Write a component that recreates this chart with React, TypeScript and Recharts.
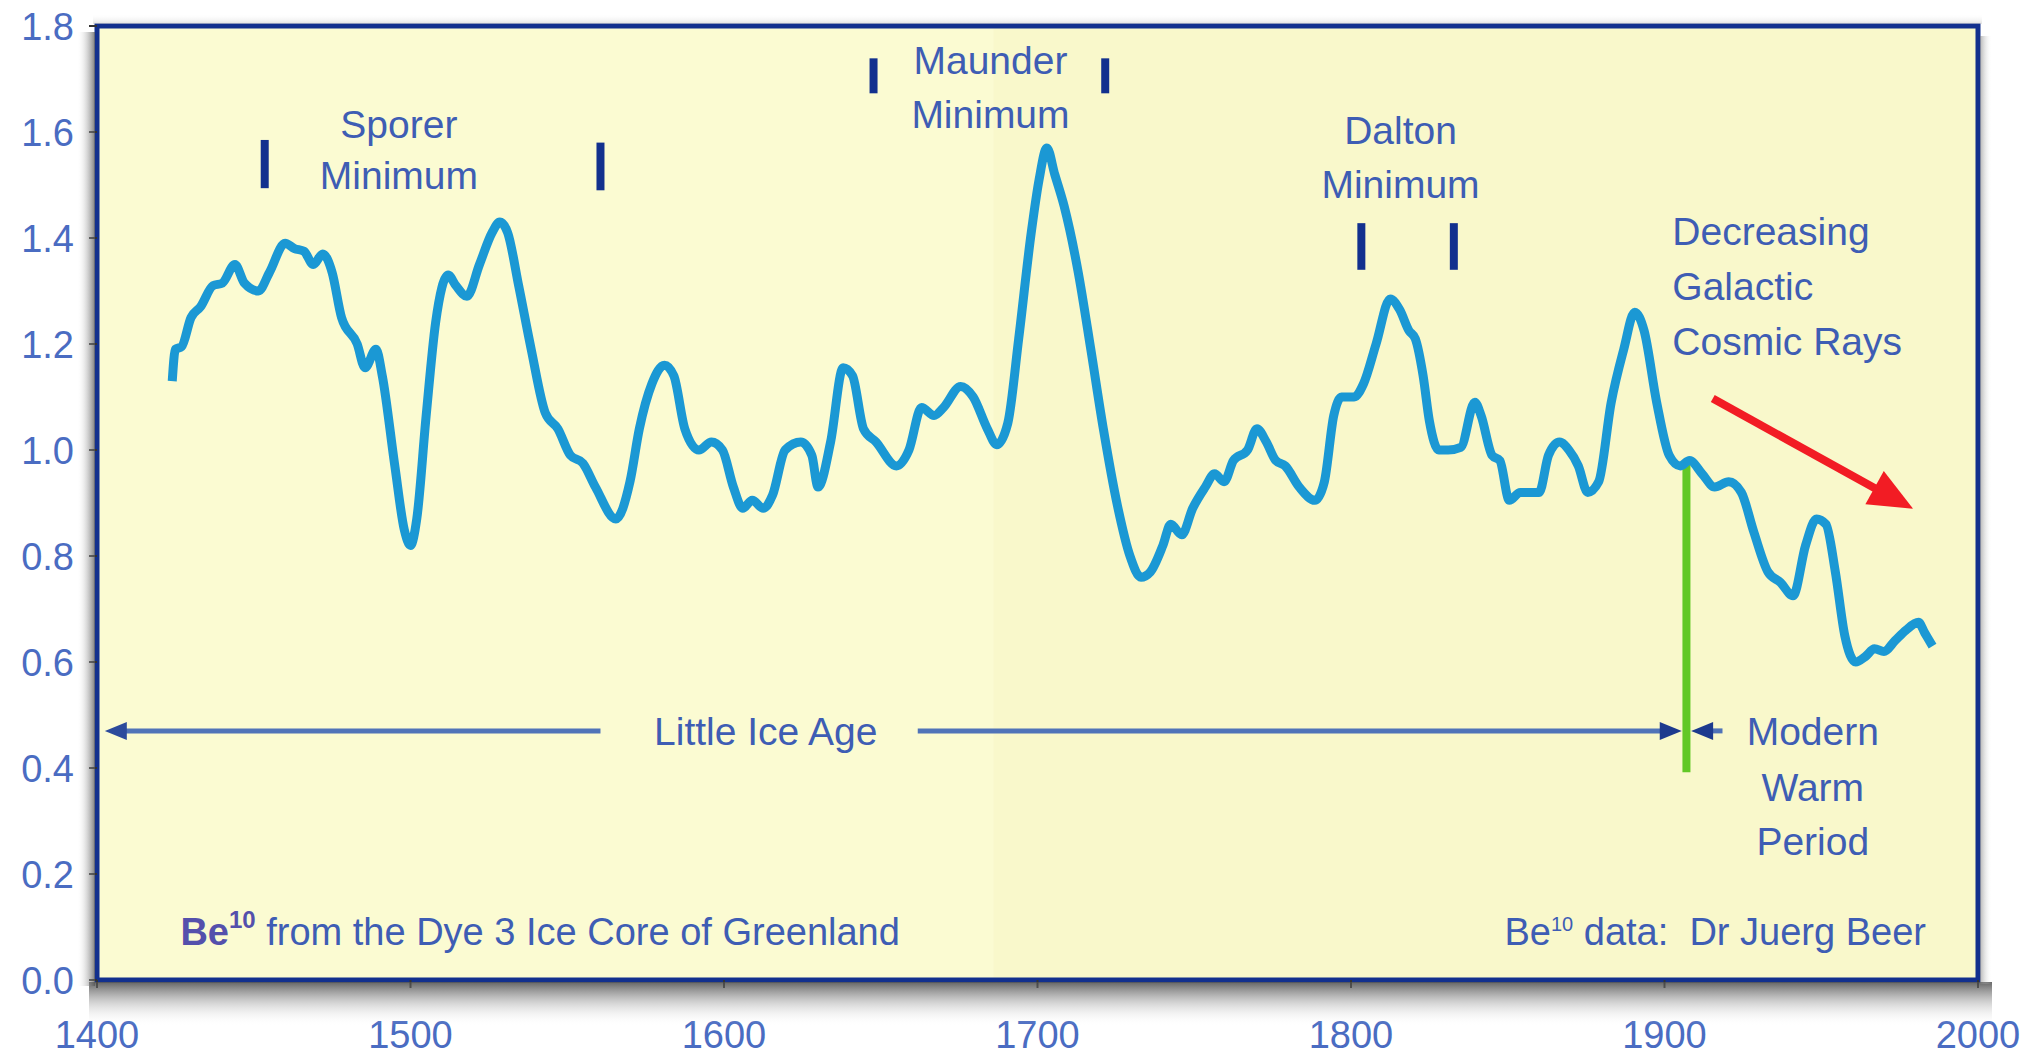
import { LineChart, Line, XAxis, YAxis, ReferenceArea, ReferenceLine, ReferenceDot } from 'recharts';

// Be10 concentration
const years = [
  1424, 1425, 1427, 1430, 1433, 1437, 1440, 1444, 1447, 1451.5, 1455, 1460, 1463, 1466, 1469, 1472, 1475, 1478, 1483, 1485.5,
  1489, 1491, 1495, 1498, 1500, 1502, 1505, 1508, 1512, 1514.5, 1518, 1522, 1526, 1528.5, 1531, 1534.5, 1538.5, 1543, 1547, 1551,
  1555, 1559, 1565.5, 1570, 1573, 1577, 1581, 1584, 1587.5, 1592, 1596, 1599.5, 1603, 1606, 1609, 1612.5, 1615.5, 1619.5, 1624.5, 1628,
  1630, 1634, 1638, 1641, 1644.5, 1648.5, 1655, 1659, 1663, 1667, 1670, 1675.5, 1679.5, 1684, 1687, 1690.5, 1694, 1698, 1700.5, 1703,
  1705.5, 1708.5, 1713, 1717, 1721, 1725.5, 1729.5, 1733, 1736, 1740, 1742.5, 1746, 1749.5, 1753.5, 1756.5, 1759.5, 1762.5, 1767, 1770, 1773,
  1776, 1779, 1783.5, 1788.5, 1791.5, 1794.5, 1797, 1801, 1804, 1808, 1812.5, 1815.5, 1818.5, 1820.5, 1823, 1825, 1828, 1831, 1835, 1839.5,
  1841.5, 1845, 1847.5, 1850.5, 1854, 1857, 1860, 1863, 1866.5, 1869.5, 1872.5, 1875.5, 1879, 1883, 1887, 1890.5, 1893.5, 1897.5, 1901.5, 1905,
  1908, 1912, 1916, 1920.5, 1924.5, 1928.5, 1933, 1937, 1941, 1945, 1948.5, 1951.5, 1954.5, 1957.5, 1961, 1964, 1967, 1970, 1973.5, 1977,
  1981, 1983, 1985.5,
];
const be10 = [
  1.13, 1.19, 1.195, 1.25, 1.27, 1.31, 1.315, 1.35, 1.315, 1.3, 1.335, 1.39, 1.38, 1.375, 1.35, 1.37, 1.335, 1.25, 1.2, 1.155,
  1.19, 1.14, 0.97, 0.85, 0.82, 0.87, 1.065, 1.24, 1.33, 1.31, 1.29, 1.35, 1.41, 1.43, 1.41, 1.31, 1.19, 1.07, 1.04, 0.99,
  0.975, 0.93, 0.87, 0.94, 1.04, 1.125, 1.16, 1.14, 1.04, 1.0, 1.015, 1.0, 0.93, 0.89, 0.905, 0.89, 0.915, 1.0, 1.015, 0.99,
  0.93, 1.015, 1.155, 1.14, 1.04, 1.015, 0.97, 1.0, 1.08, 1.065, 1.08, 1.12, 1.1, 1.04, 1.01, 1.05, 1.21, 1.41, 1.51, 1.57,
  1.52, 1.46, 1.335, 1.19, 1.04, 0.895, 0.8, 0.76, 0.77, 0.82, 0.86, 0.84, 0.89, 0.93, 0.955, 0.94, 0.98, 1.0, 1.04, 1.015,
  0.98, 0.97, 0.93, 0.905, 0.94, 1.065, 1.1, 1.1, 1.125, 1.2, 1.285, 1.265, 1.225, 1.21, 1.14, 1.055, 1.0, 1.0, 1.005, 1.09,
  1.065, 0.99, 0.98, 0.905, 0.92, 0.92, 0.92, 0.99, 1.015, 1.0, 0.97, 0.92, 0.94, 1.09, 1.19, 1.26, 1.225, 1.09, 0.99, 0.97,
  0.98, 0.955, 0.93, 0.94, 0.92, 0.845, 0.77, 0.75, 0.725, 0.82, 0.87, 0.86, 0.77, 0.65, 0.6, 0.61, 0.625, 0.62, 0.64, 0.66,
  0.675, 0.655, 0.63,
];

const xTicks = [1400, 1500, 1600, 1700, 1800, 1900, 2000];
const yTicks = [0, 0.2, 0.4, 0.6, 0.8, 1.0, 1.2, 1.4, 1.6, 1.8];

// annotation text, anchored in data coordinates
const notes = [
  { x: 1496.3, y: 1.616, text: 'Sporer', anchor: 'middle' },
  { x: 1496.3, y: 1.518, text: 'Minimum', anchor: 'middle' },
  { x: 1685, y: 1.736, text: 'Maunder', anchor: 'middle' },
  { x: 1685, y: 1.634, text: 'Minimum', anchor: 'middle' },
  { x: 1815.8, y: 1.604, text: 'Dalton', anchor: 'middle' },
  { x: 1815.8, y: 1.501, text: 'Minimum', anchor: 'middle' },
  { x: 1902.5, y: 1.413, text: 'Decreasing', anchor: 'start' },
  { x: 1902.5, y: 1.31, text: 'Galactic', anchor: 'start' },
  { x: 1902.5, y: 1.205, text: 'Cosmic Rays', anchor: 'start' },
  { x: 1613.3, y: 0.47, text: 'Little Ice Age', anchor: 'middle' },
  { x: 1947.3, y: 0.47, text: 'Modern', anchor: 'middle' },
  { x: 1947.3, y: 0.365, text: 'Warm', anchor: 'middle' },
  { x: 1947.3, y: 0.262, text: 'Period', anchor: 'middle' },
];

// short bars bracketing each solar minimum
const minimumMarks = [
  { x: 1453.5, y1: 1.494, y2: 1.585 },
  { x: 1560.6, y1: 1.49, y2: 1.58 },
  { x: 1647.7, y1: 1.673, y2: 1.739 },
  { x: 1721.6, y1: 1.673, y2: 1.739 },
  { x: 1803.3, y1: 1.34, y2: 1.428 },
  { x: 1832.8, y1: 1.34, y2: 1.428 },
];

const data = years.map((year, i) => ({ year, be10: be10[i] }));

const FONT = '"Liberation Sans", Arial, Helvetica, sans-serif';
const TEXT = '#3e5db4';
const NAVY = '#12308e';
const ARROW = '#5073b8';

// plot frame geometry (follows from the chart margins below)
const M = { top: 26, right: 57, bottom: 47, left: 0 };
const AXIS_W = 97;
const AXIS_H = 30;
const CHART_W = 2035;
const CHART_H = 1057;
const PX = M.left + AXIS_W;
const PW = CHART_W - PX - M.right;
const PH = CHART_H - M.top - M.bottom - AXIS_H;

function noteShape(text: string, anchor: string) {
  return (p: any) => (
    <text x={p.cx} y={p.cy} dy={14} textAnchor={anchor} fontSize={39} fontFamily={FONT} fill={TEXT}>
      {text}
    </text>
  );
}

function headShape(angle: number, len: number, wid: number, color: string) {
  return (p: any) => (
    <polygon
      points={`0,0 ${-len},${-wid / 2} ${-len},${wid / 2}`}
      transform={`translate(${p.cx},${p.cy}) rotate(${angle})`}
      fill={color}
    />
  );
}

// soft shadow around the frame, hung off the 0.0 tick (bottom-left corner of the frame)
function FrameShadow({ bottom }: { bottom: number }) {
  const top = bottom - PH;
  return (
    <g>
      <defs>
        <linearGradient id="fsDown" x1="0" y1="0" x2="0" y2="1">
          <stop offset="0%" stopColor="#4a4a4a" stopOpacity={0.85} />
          <stop offset="45%" stopColor="#8a8a8a" stopOpacity={0.4} />
          <stop offset="100%" stopColor="#ffffff" stopOpacity={0} />
        </linearGradient>
        <linearGradient id="fsLeft" x1="1" y1="0" x2="0" y2="0">
          <stop offset="0%" stopColor="#555" stopOpacity={0.75} />
          <stop offset="100%" stopColor="#fff" stopOpacity={0} />
        </linearGradient>
        <linearGradient id="fsRight" x1="0" y1="0" x2="1" y2="0">
          <stop offset="0%" stopColor="#777" stopOpacity={0.55} />
          <stop offset="100%" stopColor="#fff" stopOpacity={0} />
        </linearGradient>
        <linearGradient id="fsUp" x1="0" y1="1" x2="0" y2="0">
          <stop offset="0%" stopColor="#999" stopOpacity={0.3} />
          <stop offset="100%" stopColor="#fff" stopOpacity={0} />
        </linearGradient>
      </defs>
      <rect x={PX - 8} y={bottom + 2} width={PW + 22} height={44} fill="url(#fsDown)" />
      <rect x={PX - 20} y={top + 6} width={18} height={PH} fill="url(#fsLeft)" />
      <rect x={PX + PW + 2} y={top + 10} width={12} height={PH - 6} fill="url(#fsRight)" />
      <rect x={PX - 4} y={top - 12} width={PW + 8} height={10} fill="url(#fsUp)" />
    </g>
  );
}

const XTick = (p: any) => (
  <text x={p.x} y={p.y} dy={58} textAnchor="middle" fontSize={38} fontFamily={FONT} fill="#4a6cc2">
    {p.payload.value}
  </text>
);

const YTick = (p: any) => (
  <g>
    {Number(p.payload.value) === 0 ? <FrameShadow bottom={p.y} /> : null}
    <text x={74} y={p.y} dy={14} textAnchor="end" fontSize={38} fontFamily={FONT} fill="#4a6cc2">
      {Number(p.payload.value).toFixed(1)}
    </text>
  </g>
);

export default function App() {
  return (
    <div style={{ position: 'absolute', left: 0, top: 0, width: CHART_W, height: CHART_H, background: '#ffffff' }}>
      <LineChart width={CHART_W} height={CHART_H} data={data} margin={M}>
        <XAxis
          type="number"
          dataKey="year"
          domain={[1400, 2000]}
          ticks={xTicks}
          height={AXIS_H}
          axisLine={false}
          tickLine={{ stroke: '#333', strokeWidth: 2 }}
          tickSize={8}
          tick={<XTick />}
          allowDataOverflow
        />
        <YAxis
          type="number"
          domain={[0, 1.8]}
          ticks={yTicks}
          width={AXIS_W}
          axisLine={false}
          tickLine={{ stroke: '#333', strokeWidth: 2 }}
          tickSize={8}
          tick={<YTick />}
          allowDataOverflow
        />

        <ReferenceArea x1={1400} x2={2000} y1={0} y2={1.8} ifOverflow="visible" fill="#f9f8cb" fillOpacity={1} stroke="none" />
        <ReferenceArea x1={1400} x2={1686} y1={0} y2={1.8} ifOverflow="visible" fill="#fbfbd2" fillOpacity={1} stroke="none" />
        <ReferenceArea
          x1={1400}
          x2={2000}
          y1={0}
          y2={1.8}
          ifOverflow="visible"
          fill="none"
          stroke={NAVY}
          strokeWidth={5}
        />

        {minimumMarks.map((m, i) => (
          <ReferenceLine
            key={`mark-${i}`}
            segment={[{ x: m.x, y: m.y1 }, { x: m.x, y: m.y2 }]}
            stroke={NAVY}
            strokeWidth={8}
            ifOverflow="visible"
          />
        ))}

        {/* Little Ice Age / Modern Warm Period span arrows */}
        <ReferenceLine segment={[{ x: 1405, y: 0.47 }, { x: 1560.6, y: 0.47 }]} stroke={ARROW} strokeWidth={5} />
        <ReferenceLine segment={[{ x: 1661.8, y: 0.47 }, { x: 1900, y: 0.47 }]} stroke={ARROW} strokeWidth={5} />
        <ReferenceLine segment={[{ x: 1912, y: 0.47 }, { x: 1918.5, y: 0.47 }]} stroke={ARROW} strokeWidth={5} />
        <ReferenceDot x={1402.5} y={0.47} r={0} ifOverflow="visible" shape={headShape(180, 22, 18, '#2c4a9c')} />
        <ReferenceDot x={1905.5} y={0.47} r={0} ifOverflow="visible" shape={headShape(0, 22, 18, '#1d3a8e')} />
        <ReferenceDot x={1908.5} y={0.47} r={0} ifOverflow="visible" shape={headShape(180, 22, 18, '#1d3a8e')} />

        <ReferenceLine segment={[{ x: 1907, y: 0.98 }, { x: 1907, y: 0.392 }]} stroke="#62c826" strokeWidth={8} />

        {/* decreasing cosmic rays arrow */}
        <ReferenceLine segment={[{ x: 1915.4, y: 1.097 }, { x: 1971, y: 0.915 }]} stroke="#f21c24" strokeWidth={8} />
        <ReferenceDot x={1979.3} y={0.889} r={0} ifOverflow="visible" shape={headShape(28.9, 44, 38, '#f21c24')} />

        {notes.map((n, i) => (
          <ReferenceDot key={`note-${i}`} x={n.x} y={n.y} r={0} ifOverflow="visible" shape={noteShape(n.text, n.anchor)} />
        ))}

        <ReferenceDot
          x={1426.6}
          y={0.093}
          r={0}
          ifOverflow="visible"
          shape={(p: any) => (
            <text x={p.cx} y={p.cy} dy={14} fontSize={38} fontFamily={FONT} fill={TEXT}>
              <tspan fontWeight="bold" fill="#5450ac">Be</tspan>
              <tspan dy={-17} fontSize={24} fontWeight="bold" fill="#5450ac">10</tspan>
              <tspan dy={17}> from the Dye 3 Ice Core of Greenland</tspan>
            </text>
          )}
        />
        <ReferenceDot
          x={1983.4}
          y={0.093}
          r={0}
          ifOverflow="visible"
          shape={(p: any) => (
            <text x={p.cx} y={p.cy} dy={14} textAnchor="end" fontSize={38} fontFamily={FONT} fill={TEXT}>
              <tspan>Be</tspan>
              <tspan dy={-14} fontSize={20}>10</tspan>
              <tspan dy={14}>{' data:\u00a0\u00a0Dr Juerg Beer'}</tspan>
            </text>
          )}
        />

        <Line
          type="monotone"
          dataKey="be10"
          stroke="#1b98d4"
          strokeWidth={9}
          dot={false}
          activeDot={false}
          isAnimationActive={false}
        />
      </LineChart>
    </div>
  );
}
